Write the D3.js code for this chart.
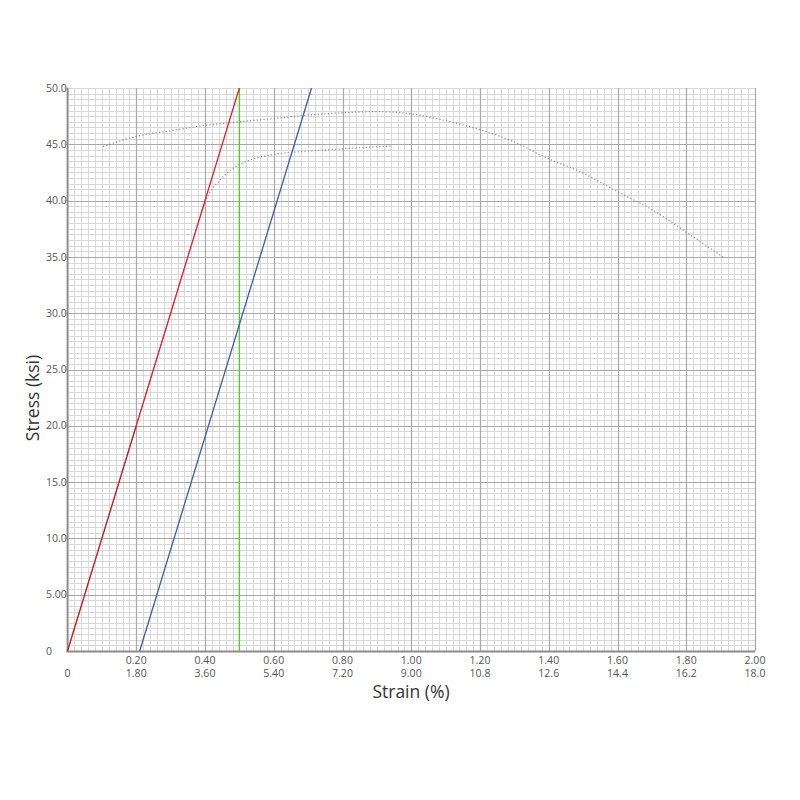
<!DOCTYPE html>
<html>
<head>
<meta charset="utf-8">
<script src="https://cdn.jsdelivr.net/npm/d3@7"></script>
<style>
  html, body { margin: 0; padding: 0; background: #fff; }
  svg { display: block; font-family: "Open Sans", "Noto Sans", sans-serif; }
</style>
</head>
<body>
<svg id="chart" width="800" height="800"></svg>
<script>
// ---- data ----
const strainTopTicks = [0.2, 0.4, 0.6, 0.8, 1.0, 1.2, 1.4, 1.6, 1.8, 2.0];
const strainTopLabels = ["0.20","0.40","0.60","0.80","1.00","1.20","1.40","1.60","1.80","2.00"];
const strainBottomTicks = [0, 1.8, 3.6, 5.4, 7.2, 9.0, 10.8, 12.6, 14.4, 16.2, 18.0];
const strainBottomLabels = ["0","1.80","3.60","5.40","7.20","9.00","10.8","12.6","14.4","16.2","18.0"];
const stressTicks = [0, 5, 10, 15, 20, 25, 30, 35, 40, 45, 50];
const stressLabels = ["0","5.00","10.0","15.0","20.0","25.0","30.0","35.0","40.0","45.0","50.0"];

// initial portion of test (plotted on 0–2 % scale)
const initialStrain = [0, 0.05, 0.10, 0.20, 0.30, 0.38, 0.40, 0.42, 0.44, 0.47, 0.50, 0.54, 0.60, 0.70, 0.80, 0.945];
const initialStress = [0, 5, 10, 20, 30, 38, 39.8, 41.0, 41.7, 42.6, 43.2, 43.7, 44.1, 44.4, 44.6, 44.85];

// full test (plotted on 0–18 % scale)
const fullStrain = [0.93, 1.8, 2.7, 3.64, 4.5, 5.43, 6.3, 7.22, 8.1, 9.0, 9.9, 10.8, 11.7, 12.6, 13.4, 14.4, 15.3, 16.2, 17.2];
const fullStress = [44.8, 45.7, 46.2, 46.7, 47.0, 47.3, 47.6, 47.8, 47.9, 47.7, 47.1, 46.3, 45.2, 43.7, 42.6, 40.8, 39.2, 37.2, 34.9];

// modulus line, offset line, marker
const modulusStrain = [0, 0.5];
const modulusStress = [0, 50];
const offsetStrain = [0.21, 0.71];
const offsetStress = [0, 50];
const markerStrain = [0.5, 0.5];
const markerStress = [0, 50];

// ---- layout ----
const L = 67.5, R = 755, T = 88, B = 651;
const svg = d3.select("#chart");
const xTop = d3.scaleLinear().domain([0, 2]).range([L, R]);
const xBot = d3.scaleLinear().domain([0, 18]).range([L, R]);
const y = d3.scaleLinear().domain([0, 50]).range([B, T]);

// grid
const g = svg.append("g");
const minorX = d3.range(0, 101).map(i => i * 0.02);
const minorY = d3.range(0, 101).map(i => i * 0.5);
g.selectAll(".mx").data(minorX).join("line")
  .attr("x1", d => Math.round(xTop(d)) + 0.5).attr("x2", d => Math.round(xTop(d)) + 0.5)
  .attr("y1", T).attr("y2", B).attr("stroke", "#d8d8d8").attr("stroke-width", 1);
g.selectAll(".my").data(minorY).join("line")
  .attr("y1", d => Math.round(y(d)) + 0.5).attr("y2", d => Math.round(y(d)) + 0.5)
  .attr("x1", L).attr("x2", R).attr("stroke", "#d8d8d8").attr("stroke-width", 1);
g.selectAll(".Mx").data(strainTopTicks).join("line")
  .attr("x1", d => Math.round(xTop(d)) + 0.5).attr("x2", d => Math.round(xTop(d)) + 0.5)
  .attr("y1", T).attr("y2", B).attr("stroke", "#a8a8a8").attr("stroke-width", 1.2);
g.selectAll(".My").data(stressTicks.slice(1, -1)).join("line")
  .attr("y1", d => Math.round(y(d)) + 0.5).attr("y2", d => Math.round(y(d)) + 0.5)
  .attr("x1", L).attr("x2", R).attr("stroke", "#a8a8a8").attr("stroke-width", 1.2);

// axis lines
svg.append("line").attr("x1", L).attr("x2", L).attr("y1", T).attr("y2", B + 1)
  .attr("stroke", "#8c8c8c").attr("stroke-width", 1.8);
svg.append("line").attr("x1", L - 1).attr("x2", R).attr("y1", B + 0.5).attr("y2", B + 0.5)
  .attr("stroke", "#8c8c8c").attr("stroke-width", 1.8);

// curves
const lineTop = d3.line().x(d => xTop(d[0])).y(d => y(d[1]));
const lineBot = d3.line().x(d => xBot(d[0])).y(d => y(d[1])).curve(d3.curveMonotoneX);
const lineTopCurve = d3.line().x(d => xTop(d[0])).y(d => y(d[1])).curve(d3.curveMonotoneX);

svg.append("path").datum(initialStrain.map((s, i) => [s, initialStress[i]]))
  .attr("d", lineTopCurve).attr("fill", "none")
  .attr("stroke", "#8a8a8a").attr("stroke-width", 1.2).attr("stroke-dasharray", "1.2,2.2");
svg.append("path").datum(fullStrain.map((s, i) => [s, fullStress[i]]))
  .attr("d", lineBot).attr("fill", "none")
  .attr("stroke", "#8a8a8a").attr("stroke-width", 1.2).attr("stroke-dasharray", "1.2,2.2");

svg.append("path").datum(markerStrain.map((s, i) => [s, markerStress[i]]))
  .attr("d", lineTop).attr("stroke", "#55cc2e").attr("stroke-width", 1.4).attr("fill", "none");
svg.append("path").datum(modulusStrain.map((s, i) => [s, modulusStress[i]]))
  .attr("d", lineTop).attr("stroke", "#e82127").attr("stroke-width", 1.3).attr("fill", "none");
svg.append("path").datum(offsetStrain.map((s, i) => [s, offsetStress[i]]))
  .attr("d", lineTop).attr("stroke", "#3b5cb8").attr("stroke-width", 1.3).attr("fill", "none");
// darker data overlay on the initial elastic part
svg.append("path").datum(initialStrain.slice(0, 4).map((s, i) => [s, initialStress[i]]))
  .attr("d", lineTop).attr("fill", "none")
  .attr("stroke", "#7a1a1a").attr("stroke-width", 0.8).attr("stroke-opacity", 0.5);

// y labels
svg.append("g").selectAll("text").data(stressTicks).join("text")
  .attr("x", 46).attr("y", d => y(d)).attr("dy", "0.35em")
  .attr("font-size", 10.5).attr("fill", "#555")
  .text((d, i) => stressLabels[i]);
// y tick marks
svg.append("g").selectAll("line").data(stressTicks.slice(1)).join("line")
  .attr("x1", L - 3).attr("x2", L).attr("y1", d => y(d)).attr("y2", d => y(d))
  .attr("stroke", "#8c8c8c");

// x labels (top row, 0–2 %)
svg.append("g").selectAll("text").data(strainTopTicks).join("text")
  .attr("x", d => xTop(d)).attr("y", 660).attr("dy", "0.35em")
  .attr("text-anchor", "middle").attr("font-size", 10.5).attr("fill", "#555")
  .text((d, i) => strainTopLabels[i]);
// x labels (bottom row, 0–18 %)
svg.append("g").selectAll("text").data(strainBottomTicks).join("text")
  .attr("x", d => xBot(d)).attr("y", 673.5).attr("dy", "0.35em")
  .attr("text-anchor", "middle").attr("font-size", 10.5).attr("fill", "#555")
  .text((d, i) => strainBottomLabels[i]);

// titles
svg.append("text").attr("x", 411).attr("y", 692).attr("dy", "0.35em")
  .attr("text-anchor", "middle").attr("font-size", 17.5).attr("fill", "#333")
  .text("Strain (%)");
svg.append("text").attr("transform", "translate(33,398) rotate(-90)").attr("dy", "0.35em")
  .attr("text-anchor", "middle").attr("font-size", 17.5).attr("fill", "#333")
  .text("Stress (ksi)");
</script>
</body>
</html>
